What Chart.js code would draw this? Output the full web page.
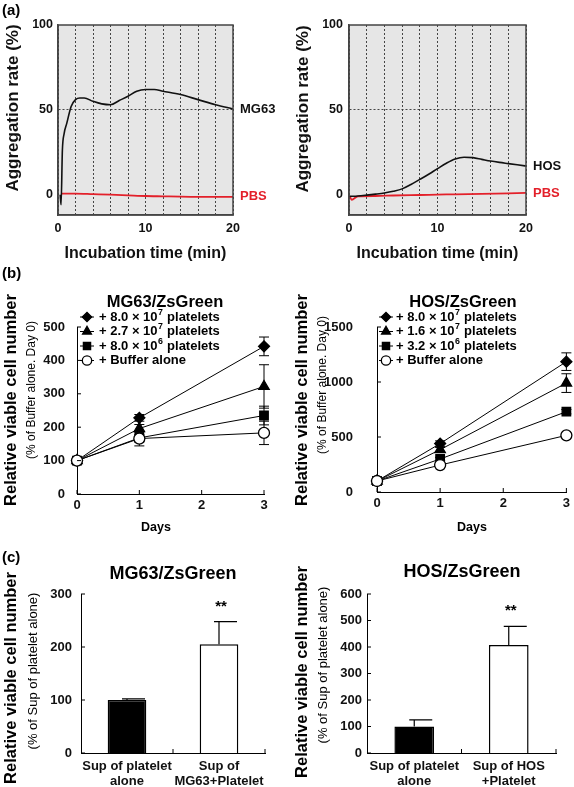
<!DOCTYPE html>
<html><head><meta charset="utf-8">
<script src="https://cdn.jsdelivr.net/npm/chart.js@4.4.1/dist/chart.umd.min.js"></script>
<style>
html,body{margin:0;padding:0;background:#fff;}
#page{position:relative;width:574px;height:787px;overflow:hidden;background:#fff;}
canvas{position:absolute;}
.tag{position:absolute;font:bold 15px Arial,'Liberation Sans',sans-serif;color:#000;line-height:17px;}
</style></head><body>
<div id="page">
<canvas id="a1" width="290" height="268" style="left:0;top:0"></canvas>
<canvas id="a2" width="284" height="268" style="left:290px;top:0"></canvas>
<canvas id="b1" width="290" height="268" style="left:0;top:268px"></canvas>
<canvas id="b2" width="284" height="268" style="left:290px;top:268px"></canvas>
<canvas id="c1" width="290" height="251" style="left:0;top:536px"></canvas>
<canvas id="c2" width="284" height="251" style="left:290px;top:536px"></canvas>
<div class="tag" style="left:2px;top:1px">(a)</div>
<div class="tag" style="left:2px;top:264px">(b)</div>
<div class="tag" style="left:2px;top:548px">(c)</div>
</div>
<script>
const FONT = "Arial, 'Liberation Sans', Helvetica, sans-serif";

// ---------- (a) aggregation curves ----------
const timeMG63 = [0.25, 0.35, 0.5, 0.7, 1.0, 1.5, 2.0, 2.5, 3.0, 4.0, 5.0, 6.0, 7.0, 8.0, 9.0, 10.0, 11.0, 12.0, 14.0, 16.0, 18.0, 20.0];
const aggMG63  = [0, -6, 26, 36, 42, 52, 56, 57, 57, 55, 53.5, 53, 55.5, 58, 61, 62, 62, 61, 59, 56, 53, 50.5];
const timePBS1 = [0.4, 2, 4, 6, 8, 10, 12, 14, 16, 18, 20];
const aggPBS1  = [0.6, 0.6, 0.3, 0, -0.4, -0.8, -1, -1.2, -1.3, -1.3, -1.3];
const timeHOS  = [0, 1, 2, 3, 4, 5, 6, 7, 8, 9, 10, 11, 12, 13, 14, 15, 16, 17, 18, 19, 20];
const aggHOS   = [-1, -0.8, -0.3, 0.3, 1, 2, 3.4, 6, 9, 12, 15.3, 18.5, 21, 22, 21.8, 20.8, 19.8, 19, 18.3, 17.6, 16.9];
const timePBS2 = [0.1, 0.3, 1, 3, 5, 8, 10, 12, 15, 18, 20];
const aggPBS2  = [-1, -3, -1, -0.8, -0.5, -0.2, 0, 0.2, 0.5, 0.8, 1];
const aTicksX = [0, 10, 20];
const aGridX  = [0, 2, 4, 6, 8, 10, 12, 14, 16, 18, 20];
const aTicksY = [0, 50, 100];

// ---------- (b) growth curves ----------
const days = [0, 1, 3];
const mgLabels = ['+ 8.0 × 10⁷ platelets', '+ 2.7 × 10⁷ platelets', '+ 8.0 × 10⁶ platelets', '+ Buffer alone'];
const mgHigh = [100, 228, 442]; const mgHighErr = [0, 10, 28];
const mgMid  = [100, 196, 322]; const mgMidErr  = [0, 12, 65];
const mgLow  = [100, 168, 235]; const mgLowErr  = [0, 10, 28];
const mgBuf  = [100, 166, 183]; const mgBufErr  = [0, 22, 35];
const hosLabels = ['+ 8.0 × 10⁷ platelets', '+ 1.6 × 10⁷ platelets', '+ 3.2 × 10⁶ platelets', '+ Buffer alone'];
const hosHigh = [100, 440, 1185]; const hosHighErr = [0, 25, 80];
const hosMid  = [100, 385, 990];  const hosMidErr  = [0, 20, 85];
const hosLow  = [100, 300, 730];  const hosLowErr  = [0, 15, 20];
const hosBuf  = [100, 245, 515];  const hosBufErr  = [0, 10, 20];

// ---------- (c) supernatant bars ----------
const cCats1 = [['Sup of platelet', 'alone'], ['Sup of', 'MG63+Platelet']];
const cVals1 = [100, 205]; const cErr1 = [2, 43];
const cCats2 = [['Sup of platelet', 'alone'], ['Sup of HOS', '+Platelet']];
const cVals2 = [100, 408]; const cErr2 = [25, 70];
const cSig = ['', '**'];

const pts = (xs, ys) => xs.map((x, i) => ({x: x, y: ys[i]}));

function drawRich(c, str, x, y, size) {
  const sup = '⁰¹²³⁴⁵⁶⁷⁸⁹';
  let cx = x, buf = '';
  c.textAlign = 'left'; c.textBaseline = 'middle';
  const flush = () => {
    if (!buf) return;
    c.font = 'bold ' + size + 'px ' + FONT;
    c.fillText(buf, cx, y); cx += c.measureText(buf).width; buf = '';
  };
  for (const ch of str) {
    const k = sup.indexOf(ch);
    if (k >= 0) {
      flush();
      c.font = 'bold ' + (size * 0.68) + 'px ' + FONT;
      c.fillText(String(k), cx + 0.5, y - size * 0.36);
      cx += c.measureText(String(k)).width + 1;
    } else buf += ch;
  }
  flush();
}

function makeDeco(cfg) {
  return {
    id: 'deco',
    beforeDraw(chart) {
      if (!cfg.bg) return;
      const c = chart.ctx, a = chart.chartArea;
      c.save(); c.fillStyle = cfg.bg; c.fillRect(a.left, a.top, a.right - a.left, a.bottom - a.top); c.restore();
    },
    beforeDatasetsDraw(chart) {
      if (!cfg.pointErrors) return;
      const c = chart.ctx, ys = chart.scales.y;
      c.save(); c.strokeStyle = '#000'; c.lineWidth = 1;
      chart.data.datasets.forEach((ds, i) => {
        const errs = cfg.pointErrors[i]; if (!errs) return;
        chart.getDatasetMeta(i).data.forEach((el, j) => {
          const e = errs[j]; if (!e) return;
          const v = ds.data[j].y;
          const y1 = ys.getPixelForValue(v + e), y2 = ys.getPixelForValue(v - e);
          c.beginPath();
          c.moveTo(el.x, y1); c.lineTo(el.x, y2);
          c.moveTo(el.x - 5, y1); c.lineTo(el.x + 5, y1);
          c.moveTo(el.x - 5, y2); c.lineTo(el.x + 5, y2);
          c.stroke();
        });
      });
      c.restore();
    },
    afterDatasetsDraw(chart) {
      if (!cfg.barErrors) return;
      const c = chart.ctx, ys = chart.scales.y, ds = chart.data.datasets[0];
      c.save(); c.strokeStyle = '#000'; c.fillStyle = '#000'; c.lineWidth = 1.2;
      chart.getDatasetMeta(0).data.forEach((el, j) => {
        const v = ds.data[j], e = cfg.barErrors[j];
        const y0 = ys.getPixelForValue(v), y1 = ys.getPixelForValue(v + e);
        c.beginPath(); c.moveTo(el.x, y0); c.lineTo(el.x, y1);
        c.moveTo(el.x - 5, y1); c.lineTo(el.x + 18, y1); c.stroke();
        if (cfg.sig && cfg.sig[j]) {
          c.font = 'bold 15px ' + FONT; c.textAlign = 'center'; c.textBaseline = 'middle';
          c.fillText(cfg.sig[j], el.x + 2, y1 - 15);
        }
      });
      c.restore();
    },
    afterDraw(chart) {
      const c = chart.ctx, a = chart.chartArea;
      c.save();
      if (cfg.frame) {
        c.strokeStyle = '#444'; c.lineWidth = 1.5;
        c.strokeRect(a.left, a.top, a.right - a.left, a.bottom - a.top);
      }
      if (cfg.inTicks) {
        const xs = chart.scales.x, ys = chart.scales.y, L = 4;
        c.strokeStyle = '#000'; c.lineWidth = 1; c.beginPath();
        ys.ticks.forEach(t => { const y = ys.getPixelForValue(t.value); c.moveTo(a.left, y); c.lineTo(a.left + L, y); });
        if (cfg.inTicks === 'cat') {
          const n = xs.ticks.length;
          for (let i = 1; i <= n; i++) { const x = a.left + (a.right - a.left) * i / n; c.moveTo(x, a.bottom); c.lineTo(x, a.bottom - L); }
        } else {
          xs.ticks.forEach(t => { const x = xs.getPixelForValue(t.value); c.moveTo(x, a.bottom); c.lineTo(x, a.bottom - L); });
        }
        c.stroke();
      }
      if (cfg.endLabels) {
        chart.data.datasets.forEach((ds, i) => {
          const els = chart.getDatasetMeta(i).data, last = els[els.length - 1];
          c.font = 'bold 13px ' + FONT; c.fillStyle = ds.borderColor; c.textAlign = 'left'; c.textBaseline = 'middle';
          c.fillText(ds.label, a.right + 7, last.y);
        });
      }
      if (cfg.legend) {
        const L = cfg.legend;
        chart.data.datasets.forEach((ds, i) => {
          const y = a.top + L.dy0 + i * L.step, mx = a.left + L.dx;
          c.strokeStyle = '#000'; c.lineWidth = 1;
          c.beginPath(); c.moveTo(mx - 7, y); c.lineTo(mx + 7, y); c.stroke();
          c.fillStyle = ds.pointBackgroundColor; c.strokeStyle = '#000'; c.lineWidth = ds.pointBorderWidth;
          Chart.helpers.drawPoint(c, {pointStyle: ds.pointStyle, radius: ds.pointRadius * 0.85, rotation: 0, borderWidth: ds.pointBorderWidth}, mx, y);
          c.fillStyle = '#000';
          drawRich(c, ds.label, a.left + L.tx, y, 13);
        });
      }
      (cfg.texts || []).forEach(t => {
        c.font = (t.weight || 'bold') + ' ' + t.size + 'px ' + FONT;
        c.fillStyle = t.color || '#000'; c.textAlign = 'center'; c.textBaseline = 'middle';
        if (t.rot) { c.save(); c.translate(t.x, t.y); c.rotate(-Math.PI / 2); c.fillText(t.t, 0, 0); c.restore(); }
        else c.fillText(t.t, t.x, t.y);
      });
      c.restore();
    }
  };
}

const tickFont = {size: 12.5, weight: 'bold'};
const plain = v => String(v);

function aChart(id, series, yW, tickPad, padRight, texts) {
  return new Chart(document.getElementById(id), {
    type: 'line',
    data: {datasets: series.map(s => ({
      label: s.label, data: s.data, borderColor: s.color, borderWidth: s.w,
      pointRadius: 0, cubicInterpolationMode: 'monotone', fill: false
    }))},
    options: {
      responsive: false, devicePixelRatio: 1, animation: false,
      layout: {padding: {left: 0, top: 25, right: padRight, bottom: 0}},
      plugins: {legend: {display: false}, tooltip: {enabled: false}, title: {display: false}},
      scales: {
        x: {
          type: 'linear', min: 0, max: 20,
          afterBuildTicks: s => { s.ticks = aGridX.map(v => ({value: v})); },
          afterFit: s => { s.height = 53; },
          ticks: {autoSkip: false, maxRotation: 0, padding: 6, font: tickFont, color: '#111',
                  callback: v => aTicksX.includes(v) ? String(v) : ''},
          grid: {color: '#333', lineWidth: 0.9, drawTicks: false},
          border: {display: true, color: '#444', width: 1.5, dash: [2, 2]},
          title: {display: true, text: 'Incubation time (min)', color: '#111',
                  font: {size: 16, weight: 'bold'}, padding: {top: 0, bottom: 5}}
        },
        y: {
          min: -12, max: 100,
          afterBuildTicks: s => { s.ticks = aTicksY.map(v => ({value: v})); },
          afterFit: s => { s.width = yW; },
          ticks: {padding: tickPad, font: tickFont, color: '#111', callback: plain},
          grid: {color: c => (c.tick && c.tick.value === 50) ? '#333' : 'rgba(0,0,0,0)', lineWidth: 0.9, drawTicks: false},
          border: {display: true, color: '#444', width: 1.5, dash: [2, 2]}
        }
      }
    },
    plugins: [makeDeco({bg: '#e6e6e6', frame: true, endLabels: true, texts: texts})]
  });
}

aChart('a1', [
  {label: 'MG63', data: pts(timeMG63, aggMG63), color: '#111', w: 1.6},
  {label: 'PBS', data: pts(timePBS1, aggPBS1), color: '#e3202a', w: 1.8}
], 58, 5, 57, [{t: 'Aggregation rate (%)', x: 13, y: 108, size: 17, rot: true, color: '#111'}]);

aChart('a2', [
  {label: 'HOS', data: pts(timeHOS, aggHOS), color: '#111', w: 1.6},
  {label: 'PBS', data: pts(timePBS2, aggPBS2), color: '#e3202a', w: 1.8}
], 59, 6, 48, [{t: 'Aggregation rate (%)', x: 13, y: 109, size: 17, rot: true, color: '#111'}]);

const styles = [
  {ps: 'rectRot', r: 5.5, bg: '#000'},
  {ps: 'triangle', r: 6, bg: '#000'},
  {ps: 'rect', r: 6, bg: '#000'},
  {ps: 'circle', r: 5.5, bg: '#fff'}
];

function bChart(id, labels, vals, errs, ymax, ystep, yW, tickPad, padRight, xH, legend, texts) {
  return new Chart(document.getElementById(id), {
    type: 'line',
    data: {datasets: vals.map((v, i) => ({
      label: labels[i], data: pts(days, v), borderColor: '#000', borderWidth: 1,
      pointStyle: styles[i].ps, pointRadius: styles[i].r, pointBackgroundColor: styles[i].bg,
      pointBorderColor: '#000', pointBorderWidth: 1.3, tension: 0, clip: false,
      order: i === 3 ? 0 : 4 - i
    }))},
    options: {
      responsive: false, devicePixelRatio: 1, animation: false,
      layout: {padding: {left: 0, top: 59, right: padRight, bottom: 0}},
      plugins: {legend: {display: false}, tooltip: {enabled: false}, title: {display: false}},
      scales: {
        x: {type: 'linear', min: 0, max: 3, afterFit: s => { s.height = xH; },
            ticks: {stepSize: 1, padding: 4, font: {size: 13, weight: 'bold'}, color: '#111', callback: plain},
            grid: {display: false, drawTicks: false}, border: {display: true, color: '#000', width: 1}},
        y: {min: 0, max: ymax, afterFit: s => { s.width = yW; },
            ticks: {stepSize: ystep, padding: tickPad, font: {size: 13, weight: 'bold'}, color: '#111', callback: plain},
            grid: {display: false, drawTicks: false}, border: {display: true, color: '#000', width: 1}}
      }
    },
    plugins: [makeDeco({pointErrors: errs, inTicks: true, legend: legend, texts: texts})]
  });
}

bChart('b1', mgLabels, [mgHigh, mgMid, mgLow, mgBuf], [mgHighErr, mgMidErr, mgLowErr, mgBufErr],
  500, 100, 77, 12, 26, 42, {dx: 10, tx: 22, dy0: -10, step: 14.5}, [
    {t: 'MG63/ZsGreen', x: 165, y: 34, size: 16.5},
    {t: 'Relative viable cell number', x: 11, y: 132, size: 16.5, rot: true},
    {t: '(% of Buffer alone. Day 0)', x: 32, y: 122, size: 12, weight: 'normal', rot: true},
    {t: 'Days', x: 156, y: 260, size: 12.5}
  ]);

bChart('b2', hosLabels, [hosHigh, hosMid, hosLow, hosBuf], [hosHighErr, hosMidErr, hosLowErr, hosBufErr],
  1500, 500, 87, 24, 6, 44, {dx: 9, tx: 19, dy0: -10, step: 14.5}, [
    {t: 'HOS/ZsGreen', x: 173, y: 34, size: 16.5},
    {t: 'Relative viable cell number', x: 12, y: 132, size: 16.5, rot: true},
    {t: '(% of Buffer alone. Day 0)', x: 33, y: 117, size: 12, weight: 'normal', rot: true},
    {t: 'Days', x: 182, y: 260, size: 12.5}
  ]);

function cChart(id, cats, vals, errs, ymax, yW, tickPad, padRight, texts) {
  return new Chart(document.getElementById(id), {
    type: 'bar',
    data: {labels: cats, datasets: [{
      label: 'Relative viable cell number', data: vals,
      backgroundColor: ['#000', '#fff'], borderColor: '#000', borderWidth: 1.5,
      barPercentage: 0.42, categoryPercentage: 1
    }]},
    options: {
      responsive: false, devicePixelRatio: 1, animation: false,
      layout: {padding: {left: 0, top: 58, right: padRight, bottom: 0}},
      plugins: {legend: {display: false}, tooltip: {enabled: false}, title: {display: false}},
      scales: {
        x: {afterFit: s => { s.height = 34; },
            ticks: {padding: 6, font: {size: 13, weight: 'bold', lineHeight: 1.15}, color: '#111', maxRotation: 0, autoSkip: false},
            grid: {display: false, drawTicks: false}, border: {display: true, color: '#000', width: 1}},
        y: {min: 0, max: ymax, afterFit: s => { s.width = yW; },
            ticks: {stepSize: 100, padding: tickPad, font: {size: 13, weight: 'bold'}, color: '#111', callback: plain},
            grid: {display: false, drawTicks: false}, border: {display: true, color: '#000', width: 1}}
      }
    },
    plugins: [makeDeco({barErrors: errs, sig: cSig, inTicks: 'cat', texts: texts})]
  });
}

cChart('c1', cCats1, cVals1, cErr1, 300, 81, 9, 25, [
  {t: 'MG63/ZsGreen', x: 173, y: 38, size: 18},
  {t: 'Relative viable cell number', x: 11, y: 142, size: 16.5, rot: true},
  {t: '(% of Sup of platelet alone)', x: 33, y: 135, size: 13, weight: 'normal', rot: true}
]);
cChart('c2', cCats2, cVals2, cErr2, 600, 77, 5, 18, [
  {t: 'HOS/ZsGreen', x: 172, y: 36.5, size: 18},
  {t: 'Relative viable cell number', x: 12, y: 136, size: 16.5, rot: true},
  {t: '(% of Sup of platelet alone)', x: 33, y: 129, size: 13, weight: 'normal', rot: true}
]);
</script>
</body></html>
